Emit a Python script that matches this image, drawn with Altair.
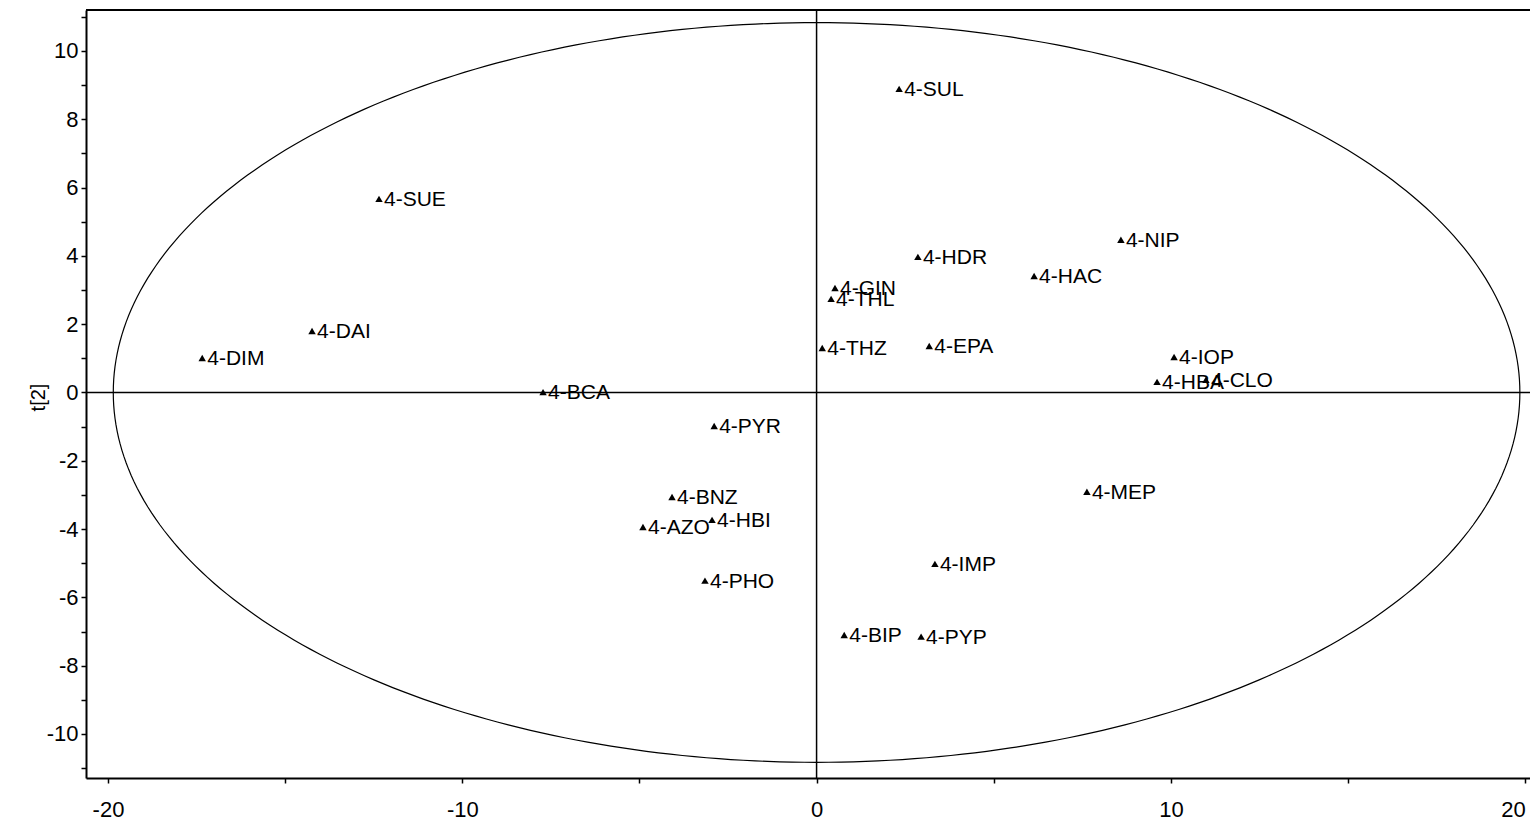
import altair as alt
import pandas as pd
import numpy as np

labels = ["4-SUL", "4-SUE", "4-DAI", "4-DIM", "4-BCA", "4-PYR", "4-BNZ", "4-AZO",
          "4-HBI", "4-PHO", "4-BIP", "4-PYP", "4-IMP", "4-MEP", "4-HBA", "4-CLO",
          "4-IOP", "4-NIP", "4-HAC", "4-HDR", "4-GIN", "4-THL", "4-THZ", "4-EPA"]
t1 = [2.33, -12.35, -14.24, -17.34, -7.72, -2.89, -4.08, -4.90,
      -2.95, -3.15, 0.78, 2.95, 3.34, 7.63, 9.61, 10.99,
      10.09, 8.59, 6.14, 2.86, 0.52, 0.41, 0.16, 3.18]
t2 = [8.89, 5.67, 1.80, 1.01, 0.01, -0.98, -3.06, -3.94,
      -3.73, -5.51, -7.10, -7.15, -5.02, -2.91, 0.31, 0.37,
      1.04, 4.47, 3.41, 3.97, 3.06, 2.74, 1.30, 1.36]

ELL_A = 19.85
ELL_B = 10.83

X_DOMAIN = [-20.62, 20.136]
Y_DOMAIN = [-11.29, 11.2]
x_ticks = [-20, -15, -10, -5, 0, 5, 10, 15, 20]
y_ticks = list(range(-11, 12))

df = pd.DataFrame({"label": labels, "t1": t1, "t2": t2})
theta = np.linspace(0, 2 * np.pi, 361)
ell = pd.DataFrame({"i": np.arange(361), "x": ELL_A * np.cos(theta), "y": ELL_B * np.sin(theta)})

FONT = "Liberation Sans"
xs = alt.Scale(domain=X_DOMAIN, nice=False, zero=False)
ys = alt.Scale(domain=Y_DOMAIN, nice=False, zero=False)

xaxis = alt.Axis(values=x_ticks,
                 labelExpr="datum.value % 10 == 0 ? toString(datum.value) : ''",
                 labelAlign={"expr": "datum.value == 20 ? 'right' : 'center'"},
                 title=None, grid=False, domainColor="black", domainWidth=2,
                 tickColor="black", tickWidth=1.5, tickSize=5, labelPadding=16,
                 labelOverlap=False, labelFlush=False,
                 labelFont=FONT, labelFontSize=22, labelColor="black")
yaxis = alt.Axis(values=y_ticks,
                 labelExpr="datum.value % 2 == 0 ? toString(datum.value) : ''",
                 title="t[2]", grid=False, domainColor="black", domainWidth=2,
                 tickColor="black", tickWidth=1.5, tickSize=5, labelPadding=3,
                 labelOverlap=False, labelFlush=False,
                 labelFont=FONT, labelFontSize=22, labelColor="black",
                 titleFont=FONT, titleFontSize=20, titleFontWeight="normal",
                 titleColor="black", titleAngle=-90, titleX=-48, titleY=387,
                 titleAlign="center", titleBaseline="middle")

base = alt.Chart(df)

ellipse = alt.Chart(ell).mark_line(color="black", strokeWidth=1.2).encode(
    x=alt.X("x:Q", scale=xs, axis=xaxis),
    y=alt.Y("y:Q", scale=ys, axis=yaxis),
    order="i:Q",
)

hline = alt.Chart(pd.DataFrame({"v": [0]})).mark_rule(color="black", strokeWidth=1.5).encode(
    y=alt.Y("v:Q", scale=ys, axis=yaxis))
vline = alt.Chart(pd.DataFrame({"v": [0]})).mark_rule(color="black", strokeWidth=1.5).encode(
    x=alt.X("v:Q", scale=xs, axis=xaxis))
topline = alt.Chart(pd.DataFrame({"v": [0]})).mark_rule(color="black", strokeWidth=2).encode(
    x=alt.value(0), x2=alt.value(1452), y=alt.value(0))

pts = base.mark_point(shape="triangle-up", filled=True, color="black", size=55, opacity=1).encode(
    x=alt.X("t1:Q", scale=xs, axis=xaxis), y=alt.Y("t2:Q", scale=ys, axis=yaxis))
txt = base.mark_text(align="left", baseline="middle", dx=5, dy=1, font=FONT, fontSize=21,
                     color="black").encode(
    x=alt.X("t1:Q", scale=xs, axis=xaxis), y=alt.Y("t2:Q", scale=ys, axis=yaxis), text="label:N")

chart = alt.layer(ellipse, hline, vline, topline, pts, txt).properties(
    width=1444, height=768,
    padding={"left": 78, "top": 2, "right": 0, "bottom": 45},
    autosize=alt.AutoSizeParams(type="none"),
).configure_view(stroke=None).configure(background="white")

chart.save("out.html", embed_options={"renderer": "svg", "actions": False})
